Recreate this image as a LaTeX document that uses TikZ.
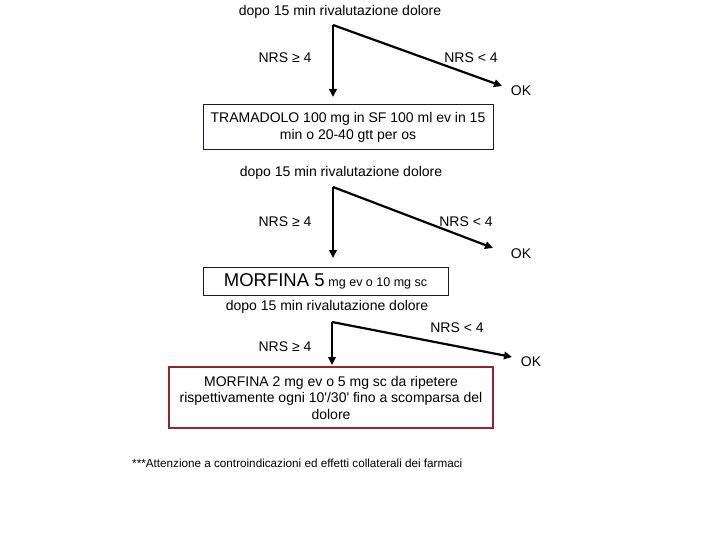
\documentclass[tikz,border=0pt]{standalone}
\usepackage{fontspec}
\setmainfont[Ligatures=TeXOff]{Liberation Sans}
\usetikzlibrary{arrows.meta}
\definecolor{boxline}{RGB}{25,25,60}
\definecolor{redline}{RGB}{150,35,45}
\tikzset{
  lbl/.style={inner sep=0pt, font=\fontsize{14}{16.5}\selectfont},
  conn/.style={line width=2.2pt, -{Triangle[length=8pt,width=7.5pt]}},
  boxA/.style={draw=boxline, line width=1pt, inner sep=0pt, align=center, font=\fontsize{14}{16.5}\selectfont},
  boxR/.style={draw=redline, line width=1.3pt, inner sep=0pt, align=center, font=\fontsize{14}{16.5}\selectfont},
}
\begin{document}
\begin{tikzpicture}[x=1pt,y=-1pt]
\useasboundingbox[fill=white] (0,0) rectangle (720,540);
% block 1
\node[lbl] (t1) at (340,12) {dopo 15 min rivalutazione dolore};
\coordinate (c1) at (333,25);
\coordinate (d1) at (333,97);
\coordinate (e1) at (502,86);
\node[lbl] (n1a) at (285,58) {NRS ≥ 4};
\node[lbl] (n1b) at (471,58) {NRS < 4};
\node[lbl] (ok1) at (521,91) {OK};
\node[boxA, minimum width=290pt, minimum height=45pt] (b1) at (348,127.5)
  {TRAMADOLO 100 mg in SF 100 ml ev in 15\\min o 20-40 gtt per os};
\draw[conn] (c1) -- (d1);
\draw[conn] (c1) -- (e1);
% block 2
\node[lbl] (t2) at (341,173) {dopo 15 min rivalutazione dolore};
\coordinate (c2) at (333,187);
\coordinate (d2) at (333,258);
\coordinate (e2) at (493,248);
\node[lbl] (n2a) at (285,222) {NRS ≥ 4};
\node[lbl] (n2b) at (466,222) {NRS < 4};
\node[lbl] (ok2) at (521,254) {OK};
\node[boxA, minimum width=245pt, minimum height=28pt] (b2) at (325.5,281)
  {{\fontsize{18.5}{20}\selectfont MORFINA 5} {\fontsize{12.5}{14}\selectfont mg ev o 10 mg sc}};
\draw[conn] (c2) -- (d2);
\draw[conn] (c2) -- (e2);
% block 3
\node[lbl] (t3) at (327,307) {dopo 15 min rivalutazione dolore};
\coordinate (c3) at (332,322);
\coordinate (d3) at (332,365);
\coordinate (e3) at (512,357);
\node[lbl] (n3b) at (457,328) {NRS < 4};
\node[lbl] (n3a) at (285,347) {NRS ≥ 4};
\node[lbl] (ok3) at (531,362) {OK};
\node[boxR, minimum width=324pt, minimum height=61pt] (b3) at (331,397.5)
  {MORFINA 2 mg ev o 5 mg sc da ripetere\\rispettivamente ogni 10'/30' fino a scomparsa del\\dolore};
\draw[conn] (c3) -- (d3);
\draw[conn] (c3) -- (e3);
% footnote
\node[inner sep=0pt, anchor=west, font=\fontsize{11.7}{13}\selectfont] (fn) at (132,463)
  {***Attenzione a controindicazioni ed effetti collaterali dei farmaci};
\end{tikzpicture}
\end{document}
